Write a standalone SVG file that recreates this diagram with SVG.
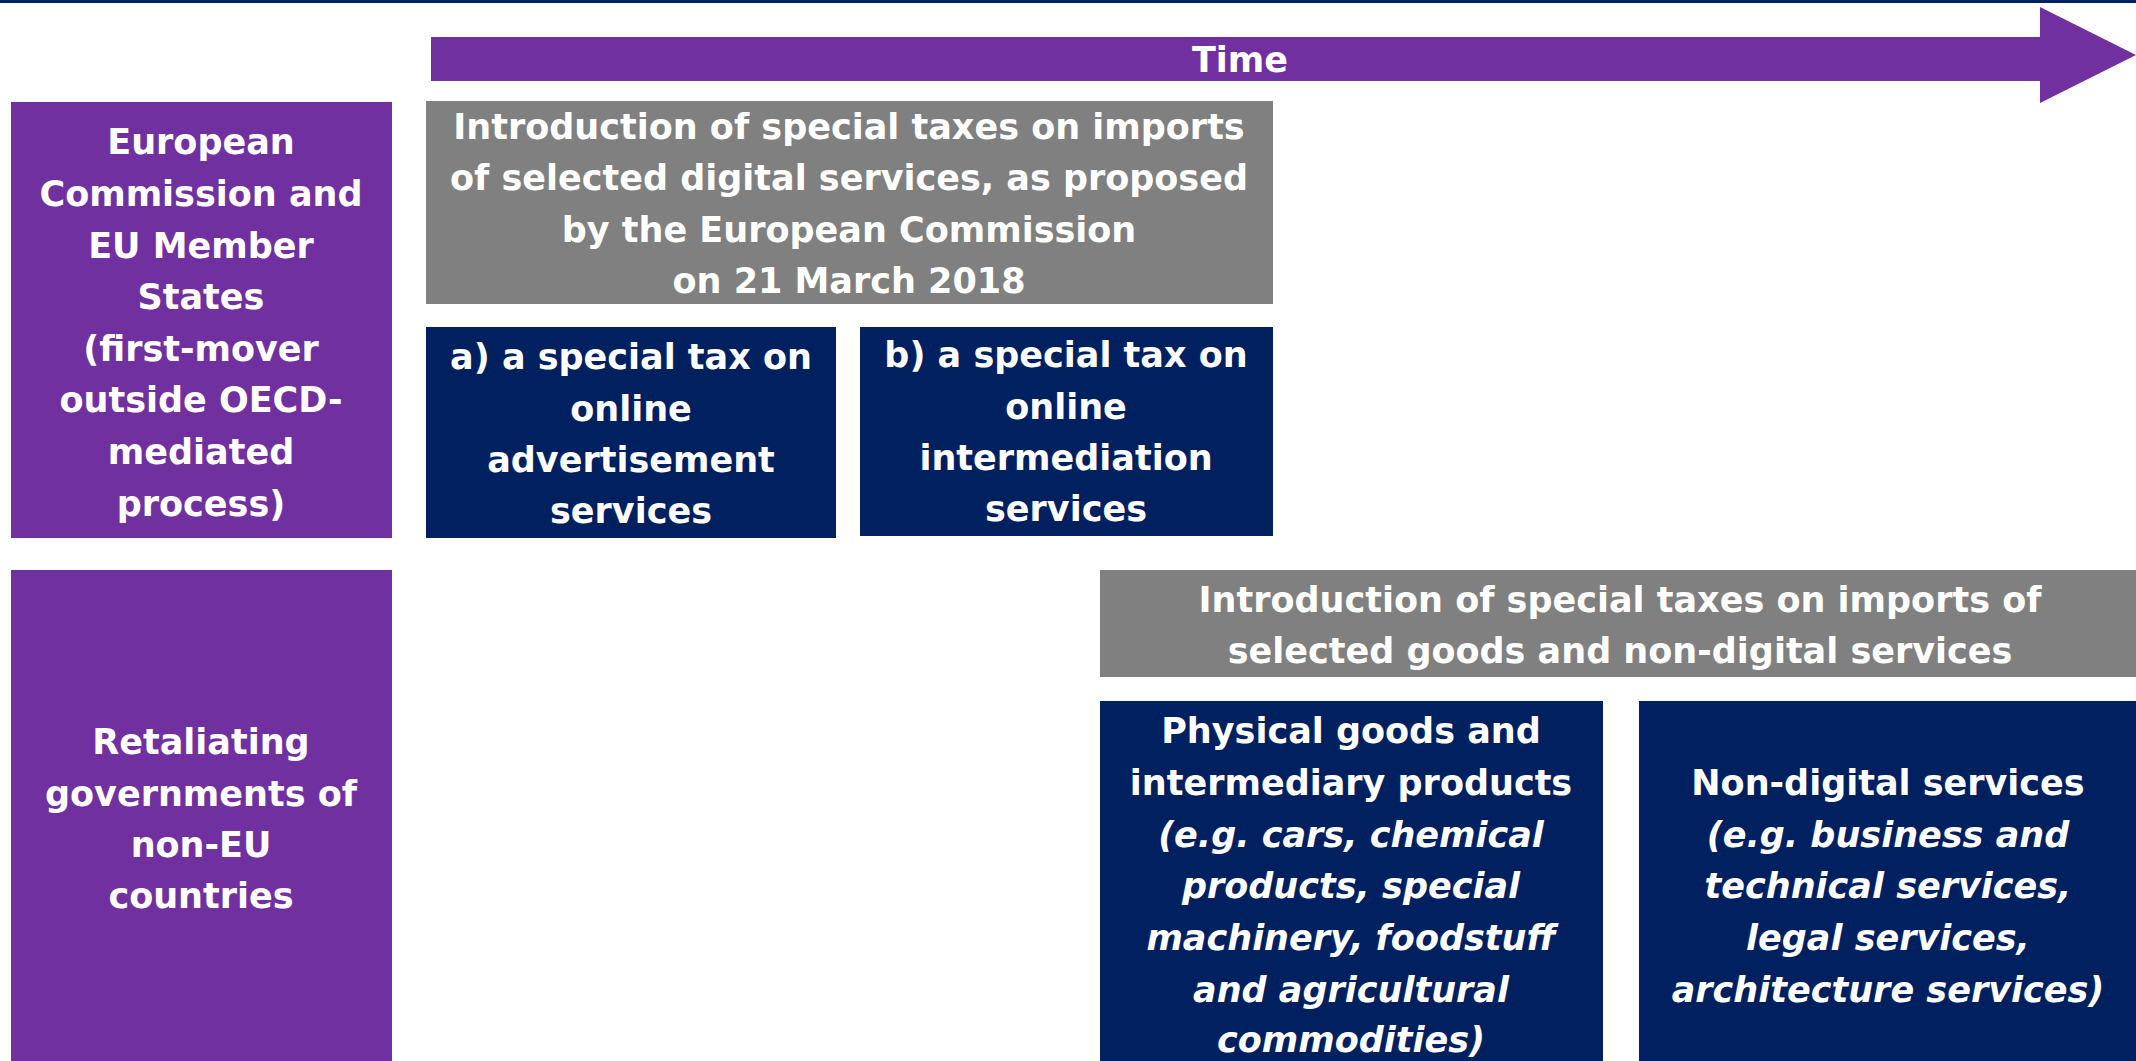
<svg xmlns="http://www.w3.org/2000/svg" width="2136" height="1061" viewBox="0 0 2136 1061">
<style>
text{font-family:"DejaVu Sans","Liberation Sans",sans-serif;font-weight:bold;font-size:35px;fill:#ffffff;text-anchor:middle}
.it{font-style:italic}
.purple{fill:#7030A0}
.navy{fill:#002060}
.gray{fill:#808080}
</style>
<rect x="0" y="0" width="2136" height="3" class="navy"/>
<g id="time-arrow">
<polygon class="purple" points="431,37 2040,37 2040,7 2136,55 2040,103 2040,81 431,81"/>
<text x="1240" y="72">Time</text>
</g>
<g id="eu-actor">
<rect x="11" y="102" width="381" height="436" class="purple"/>
<text x="201" y="154">European</text>
<text x="201" y="206">Commission and</text>
<text x="201" y="258">EU Member</text>
<text x="201" y="309">States</text>
<text x="201" y="361">(first-mover</text>
<text x="201" y="412">outside OECD-</text>
<text x="201" y="464">mediated</text>
<text x="201" y="516">process)</text>
</g>
<g id="eu-measure">
<rect x="426" y="101" width="847" height="203" class="gray"/>
<text x="849" y="139">Introduction of special taxes on imports</text>
<text x="849" y="190">of selected digital services, as proposed</text>
<text x="849" y="242">by the European Commission</text>
<text x="849" y="293">on 21 March 2018</text>
</g>
<g id="tax-a">
<rect x="426" y="327" width="410" height="211" class="navy"/>
<text x="631" y="369">a) a special tax on</text>
<text x="631" y="421">online</text>
<text x="631" y="472">advertisement</text>
<text x="631" y="523">services</text>
</g>
<g id="tax-b">
<rect x="860" y="327" width="413" height="209" class="navy"/>
<text x="1066" y="367">b) a special tax on</text>
<text x="1066" y="419">online</text>
<text x="1066" y="470">intermediation</text>
<text x="1066" y="521">services</text>
</g>
<g id="retaliating-actor">
<rect x="11" y="570" width="381" height="491" class="purple"/>
<text x="201" y="754">Retaliating</text>
<text x="201" y="806">governments of</text>
<text x="201" y="857">non-EU</text>
<text x="201" y="908">countries</text>
</g>
<g id="retaliation-measure">
<rect x="1100" y="570" width="1036" height="107" class="gray"/>
<text x="1620" y="612">Introduction of special taxes on imports of</text>
<text x="1620" y="663">selected goods and non-digital services</text>
</g>
<g id="physical-goods">
<rect x="1100" y="701" width="503" height="360" class="navy"/>
<text x="1351" y="743">Physical goods and</text>
<text x="1351" y="795">intermediary products</text>
<text x="1351" y="847" class="it">(e.g. cars, chemical</text>
<text x="1351" y="898" class="it">products, special</text>
<text x="1351" y="950" class="it">machinery, foodstuff</text>
<text x="1351" y="1002" class="it">and agricultural</text>
<text x="1351" y="1052" class="it">commodities)</text>
</g>
<g id="non-digital">
<rect x="1639" y="701" width="497" height="360" class="navy"/>
<text x="1888" y="795">Non-digital services</text>
<text x="1888" y="847" class="it">(e.g. business and</text>
<text x="1888" y="898" class="it">technical services,</text>
<text x="1888" y="950" class="it">legal services,</text>
<text x="1888" y="1002" class="it">architecture services)</text>
</g>
<g id="connectors"></g>
</svg>
